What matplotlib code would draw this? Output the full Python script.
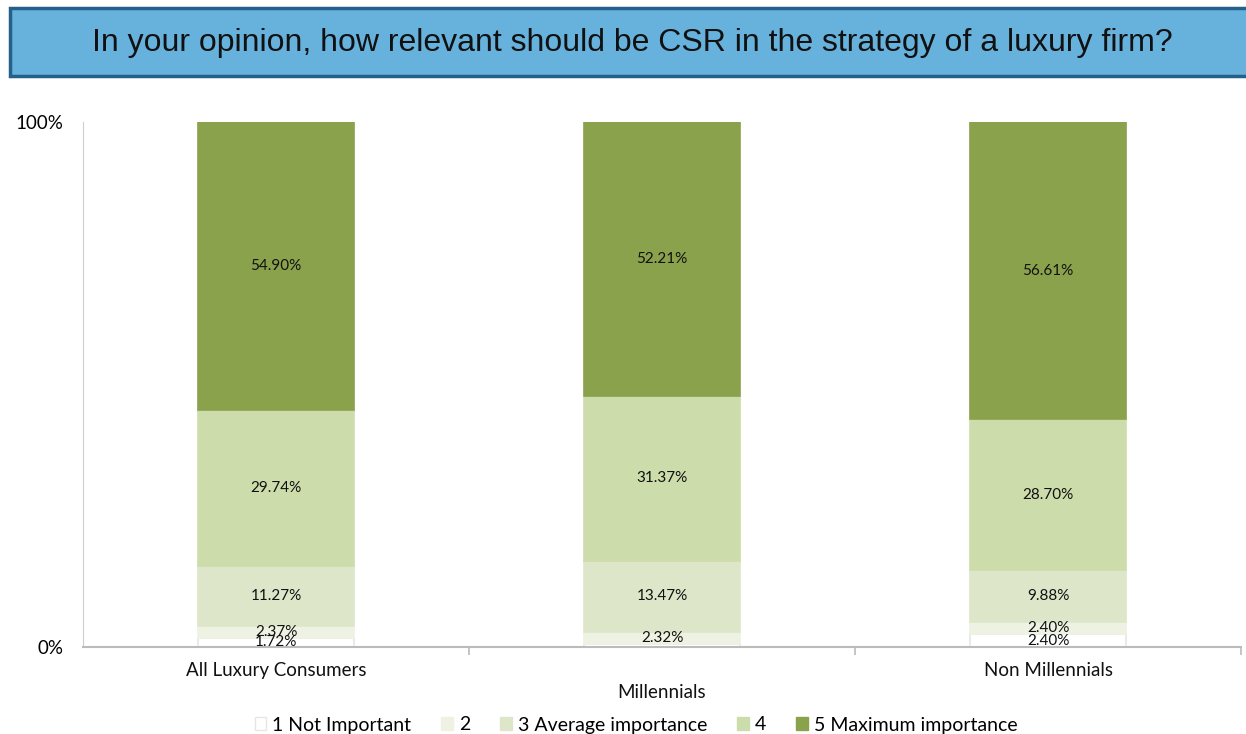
import matplotlib.pyplot as plt
import numpy as np
from matplotlib.patches import Rectangle

# Survey shares (%) per group, one list per answer level
groups = ['All Luxury Consumers', 'Millennials', 'Non Millennials']
levels = ['1 Not Important', '2', '3 Average importance', '4', '5 Maximum importance']
not_important = [1.72, 0.63, 2.40]
level_2 = [2.37, 2.32, 2.40]
average = [11.27, 13.47, 9.88]
level_4 = [29.74, 31.37, 28.70]
maximum = [54.90, 52.21, 56.61]
# which segments carry a value label
show_label = [
    [True, False, True],
    [True, True, True],
    [True, True, True],
    [True, True, True],
    [True, True, True],
]

colors = ['#ffffff', '#eef2e3', '#dde6c8', '#cddcab', '#8aa24c']
edges = ['#e6e6e0', '#eef2e3', '#dde6c8', '#cddcab', '#8aa24c']

series = [not_important, level_2, average, level_4, maximum]

plt.rcParams['font.family'] = ['Lato', 'DejaVu Sans']

fig = plt.figure(figsize=(12.46, 7.34), dpi=100)

# title banner
fig.patches.append(Rectangle((10 / 1246, 1 - 76 / 734), 1.0, 68 / 734,
                             transform=fig.transFigure, facecolor='#66b2dd',
                             edgecolor='#24608a', linewidth=2.5, zorder=0))
fig.text(632 / 1246, 1 - 43 / 734,
         'In your opinion, how relevant should be CSR in the strategy of a luxury firm?',
         ha='center', va='center', fontsize=23, color='#111111',
         family=['Liberation Sans', 'DejaVu Sans'])

ax = fig.add_axes([83 / 1246, 1 - 647 / 734, 1158 / 1246, 525 / 734])

x = np.arange(len(groups))
bottom = np.zeros(len(groups))
for vals, c, e, flags in zip(series, colors, edges, show_label):
    vals = np.array(vals)
    ax.bar(x, vals, 0.404, bottom=bottom, color=c, edgecolor=e, linewidth=1.2)
    for xi, b, v, f in zip(x, bottom, vals, flags):
        if f:
            ax.text(xi, b + v / 2, f'{v:.2f}%', ha='center', va='center',
                    fontsize=11, color='#111111')
    bottom += vals

ax.set_xlim(-0.5, 2.5)
ax.set_ylim(0, 100)
ax.set_yticks([0, 100])
ax.set_yticklabels(['0%', '100%'], fontsize=13.5)
ax.tick_params(axis='y', length=0, pad=14)

ax.set_xticks([0.5, 1.5, 2.5])
ax.set_xticklabels([])
ax.tick_params(axis='x', length=6, color='#bbbbbb', width=1.2)
for xi, g in zip(x, groups):
    y_off = -0.045 if xi != 1 else -0.086
    ax.text(xi, y_off, g, transform=ax.get_xaxis_transform(), ha='center',
            va='center', fontsize=13.5, color='#111111')

for side in ['top', 'right']:
    ax.spines[side].set_visible(False)
ax.spines['left'].set_color('#cccccc')
ax.spines['bottom'].set_color('#bbbbbb')
ax.spines['bottom'].set_linewidth(1.5)

handles = [Rectangle((0, 0), 1, 1, facecolor=c, edgecolor=e) for c, e in zip(colors, edges)]
fig.legend(handles, levels, loc='center', bbox_to_anchor=(636 / 1246, 1 - 725 / 734),
           ncol=5, frameon=False, fontsize=14, handlelength=0.6, handleheight=0.6,
           handletextpad=0.3, columnspacing=1.55)

fig.savefig('out.png', dpi=100)
